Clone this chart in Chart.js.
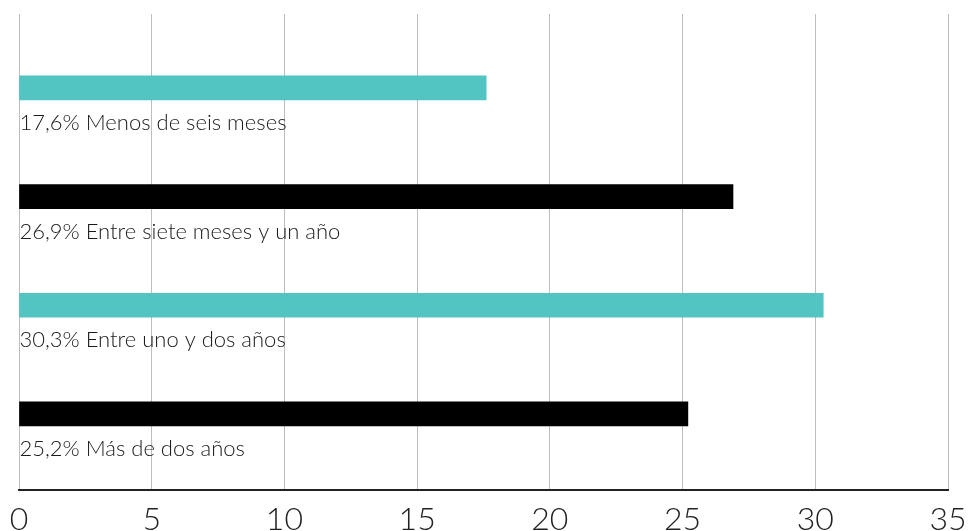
<!DOCTYPE html>
<html>
<head>
<meta charset="utf-8">
<script src="https://cdn.jsdelivr.net/npm/chart.js@4/dist/chart.umd.min.js"></script>
<style>
  html, body { margin: 0; padding: 0; background: #fff; }
  #wrap { width: 968px; height: 531px; }
</style>
</head>
<body>
<div id="wrap"><canvas id="chart"></canvas></div>
<script>
// datos
const categories = ["Menos de seis meses", "Entre siete meses y un año", "Entre uno y dos años", "Más de dos años"];
const values = [17.6, 26.9, 30.3, 25.2];
const barColors = ["#52c4c1", "#000000", "#52c4c1", "#000000"];
const xMin = 0, xMax = 35, xStep = 5;

// etiqueta debajo de cada barra
const belowLabels = {
  id: "belowLabels",
  afterDatasetsDraw(chart) {
    const ctx = chart.ctx;
    const meta = chart.getDatasetMeta(0);
    ctx.save();
    ctx.font = "300 22px Lato";
    ctx.fillStyle = "#1a1a1a";
    ctx.textBaseline = "alphabetic";
    ctx.textAlign = "left";
    meta.data.forEach(function(bar, i) {
      const p = bar.getProps(["y", "base", "height"], true);
      const txt = values[i].toFixed(1).replace(".", ",") + "% " + categories[i];
      ctx.fillText(txt, p.base, p.y + p.height / 2 + 30);
    });
    ctx.restore();
  }
};

new Chart(document.getElementById("chart"), {
  type: "bar",
  data: {
    datasets: [{
      data: values.map((v, i) => ({ x: v, y: i })),
      backgroundColor: barColors,
      barThickness: 24,
      borderWidth: 0
    }]
  },
  options: {
    indexAxis: "y",
    responsive: true,
    maintainAspectRatio: false,
    animation: false,
    layout: { padding: { top: 14, left: 19, right: 20, bottom: -19 } },
    plugins: { legend: { display: false }, tooltip: { enabled: false } },
    scales: {
      x: {
        type: "linear",
        min: xMin, max: xMax,
        grid: { color: "#bdbdbd", lineWidth: 1, drawTicks: false },
        border: { color: "#222222", width: 2 },
        ticks: {
          stepSize: xStep,
          padding: 0,
          color: "#222222",
          font: { family: "Lato", size: 32, weight: 300, lineHeight: 1.875 }
        }
      },
      y: {
        type: "linear",
        reverse: true,
        offset: false,
        grid: { offset: false },
        min: -0.68, max: 3.7,
        display: false
      }
    }
  },
  plugins: [belowLabels]
});
</script>
</body>
</html>
